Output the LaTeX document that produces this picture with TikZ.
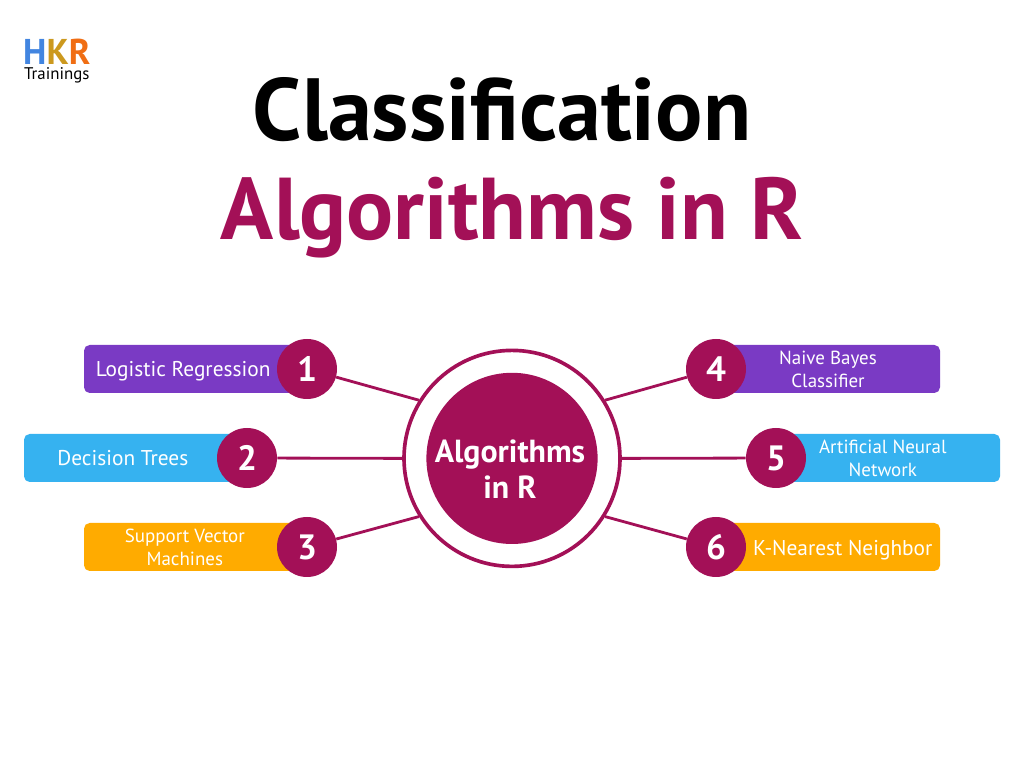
\documentclass[tikz,border=0pt]{standalone}
\usepackage{fontspec}
\setmainfont{PT Sans}
\definecolor{hkrmaroon}{RGB}{163,16,87}
\definecolor{hkrpurple}{RGB}{122,58,196}
\definecolor{hkrsky}{RGB}{54,178,240}
\definecolor{hkramber}{RGB}{255,171,0}
\definecolor{hkrlogoblue}{RGB}{66,133,224}
\definecolor{hkrlogogold}{RGB}{204,153,30}
\definecolor{hkrlogoorange}{RGB}{240,110,20}
\usetikzlibrary{positioning}

\begin{document}
\begin{tikzpicture}[
    numdisc/.style={circle, minimum size=1.5cm, inner sep=0pt, fill=hkrmaroon, text=white,
      font=\fontsize{25}{25}\selectfont\bfseries},
    bar/.style={rectangle, rounded corners=4pt, minimum width=5.5cm, minimum height=1.2cm, inner sep=0pt},
    barlabel/.style={text=white, align=center, inner sep=0pt, font=\fontsize{13.5}{16.5}\selectfont},
    barlabelone/.style={barlabel, font=\fontsize{15.2}{16.5}\selectfont},
    link/.style={line width=2pt, draw=hkrmaroon}
  ]
    \useasboundingbox (0, 0) rectangle (25.6, 19.2);
    % Logo
    \node[inner sep=0pt, align=center] (logo) at (1.42, 17.68)
      {{\fontsize{25.5}{15}\selectfont\bfseries\textcolor{hkrlogoblue}{H}\textcolor{hkrlogogold}{K}\textcolor{hkrlogoorange}{R}}\\[-1.4pt]
       {\fontsize{12}{11}\selectfont Trainings}};
    % Title
    \node[inner sep=0pt, font=\fontsize{62.8}{62.8}\selectfont\bfseries] (title) at (12.55, 16.45) {Classification};
    \node[inner sep=0pt, text=hkrmaroon, font=\fontsize{62.4}{62.4}\selectfont\bfseries] (subtitle) at (12.8, 13.75)
      {Algorithms in R};
    % Hub
    \node[circle, minimum size=5.4cm, draw=hkrmaroon, line width=2.6pt, fill=white] (hub) at (12.8, 7.74) {};
    \node[circle, minimum size=4.28cm, inner sep=0pt, fill=hkrmaroon] (core) at (12.8, 7.74) {};
    \node[inner sep=0pt, text=white, align=center, font=\fontsize{22.7}{25.5}\selectfont\bfseries] (corelabel)
      at (12.75, 7.47) {Algorithms\\in R};
    % Bars
    \node[bar, fill=hkrpurple] (b1) at (4.85, 9.975) {};
    \node[bar, fill=hkrsky] (b2) at (3.35, 7.75) {};
    \node[bar, fill=hkramber] (b3) at (4.85, 5.525) {};
    \node[bar, fill=hkrpurple] (b4) at (20.75, 9.975) {};
    \node[bar, fill=hkrsky] (b5) at (22.25, 7.75) {};
    \node[bar, fill=hkramber] (b6) at (20.75, 5.525) {};
    % Bar labels
    \node[barlabelone] (l1) at (4.58, 9.93) {Logistic Regression};
    \node[barlabelone] (l2) at (3.07, 7.745) {Decision Trees};
    \node[barlabel] (l3) at (4.62, 5.525) {Support Vector\\Machines};
    \node[barlabel] (l4) at (20.7, 9.96) {Naive Bayes\\Classifier};
    \node[barlabel] (l5) at (22.07, 7.75) {Artificial Neural\\Network};
    \node[barlabelone] (l6) at (21.07, 5.455) {K-Nearest Neighbor};
    % Number discs
    \node[numdisc] (n1) at (7.675, 9.975) {1};
    \node[numdisc] (n2) at (6.175, 7.75) {2};
    \node[numdisc] (n3) at (7.675, 5.525) {3};
    \node[numdisc] (n4) at (17.9, 9.975) {4};
    \node[numdisc] (n5) at (19.4, 7.75) {5};
    \node[numdisc] (n6) at (17.9, 5.525) {6};
    % Links
    \draw[link] (n1) -- (hub.148);
    \draw[link] (n2) -- (hub.west);
    \draw[link] (n3) -- (hub.212);
    \draw[link] (n4) -- (hub.32);
    \draw[link] (n5) -- (hub.east);
    \draw[link] (n6) -- (hub.-32);
  \end{tikzpicture}
\end{document}
